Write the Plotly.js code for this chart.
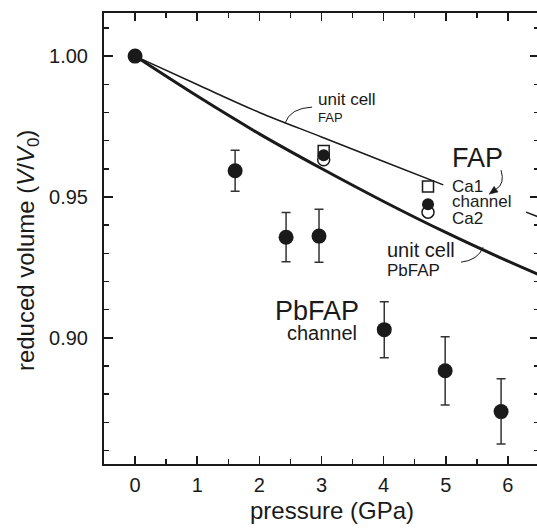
<!DOCTYPE html>
<html>
<head>
<meta charset="utf-8">
<script src="https://cdn.plot.ly/plotly-3.0.1.min.js"></script>
<style>
html,body{margin:0;padding:0;overflow:hidden;background:#fff;}
#chart{width:540px;height:528px;}
</style>
</head>
<body>
<div id="chart"></div>
<script>
// PbFAP channel (filled circles with error bars)
var pbChanP = [0, 1.61, 2.43, 2.96, 4.01, 4.99, 5.89];
var pbChanV = [1.000, 0.9593, 0.9357, 0.9361, 0.9029, 0.8883, 0.8738];
var pbChanErrPlus = [0, 0.0073, 0.0088, 0.0095, 0.0099, 0.0121, 0.0117];
var pbChanErrMinus = [0, 0.0073, 0.0087, 0.0093, 0.0100, 0.0122, 0.0115];

// FAP polyhedra
var fapP = [3.035, 4.714];
var fapCa1V = [0.9663, 0.9537];
var fapChanV = [0.9648, 0.9474];
var fapCa2V = [0.9632, 0.9446];

// Unit cell compression curves
var ucFapP = [0, 1, 2, 3, 4, 4.96];
var ucFapV = [1.000, 0.9899, 0.9800, 0.9713, 0.9626, 0.9543];
var ucPbP = [0, 1, 2, 3, 4, 5, 6, 6.5];
var ucPbV = [1.000, 0.9858, 0.9724, 0.9601, 0.9484, 0.9374, 0.9272, 0.9224];

var xTickVals = [0, 1, 2, 3, 4, 5, 6];
var yTickVals = [0.90, 0.95, 1.00];

var FONT = "Liberation Sans, Arial, Helvetica, sans-serif";
var INK = "#1a1a1a";

var traces = [
  {x: ucFapP, y: ucFapV, mode: "lines", line: {color: INK, width: 1.5, shape: "spline"}, hoverinfo: "skip"},
  {x: ucPbP, y: ucPbV, mode: "lines", line: {color: INK, width: 3, shape: "spline"}, hoverinfo: "skip"},
  {x: fapP, y: fapCa1V, mode: "markers", marker: {symbol: "square", size: 11, color: "#fff", line: {color: INK, width: 1.5}}},
  {x: fapP, y: fapCa2V, mode: "markers", marker: {symbol: "circle", size: 12, color: "#fff", line: {color: INK, width: 1.5}}},
  {x: fapP, y: fapChanV, mode: "markers", marker: {symbol: "circle", size: 12, color: INK, line: {width: 0}}},
  {x: pbChanP, y: pbChanV, mode: "markers",
   marker: {symbol: "circle", size: 15, color: INK, line: {width: 0}},
   error_y: {type: "data", symmetric: false, array: pbChanErrPlus, arrayminus: pbChanErrMinus,
             color: "#333", thickness: 1.5, width: 4.5}}
];

function ann(text, x, y, size, xanchor) {
  return {text: text, x: x, y: y, xref: "x", yref: "y", showarrow: false,
          xanchor: xanchor || "left", yanchor: "middle", borderpad: 0,
          font: {family: FONT, size: size, color: INK}};
}

var annotations = [
  ann("unit cell", 2.935, 0.9847, 17),
  ann("FAP", 2.935, 0.9782, 13),
  ann("FAP", 5.085, 0.9638, 27),
  ann("Ca1", 5.085, 0.9538, 17),
  ann("channel", 5.085, 0.9483, 17),
  ann("Ca2", 5.085, 0.9424, 17),
  ann("unit cell", 4.040, 0.9312, 20),
  ann("PbFAP", 4.040, 0.9238, 17),
  ann("PbFAP", 3.62, 0.9095, 27, "right"),
  ann("channel", 3.58, 0.9016, 20, "right"),
  {text: "pressure (GPa)", xref: "paper", yref: "paper", x: 0.523, y: -0.104, showarrow: false,
   xanchor: "center", yanchor: "middle", borderpad: 0, font: {family: FONT, size: 24, color: INK}},
  {text: "reduced volume (<i>V</i>/<i>V</i><sub>0</sub>)", xref: "paper", yref: "paper", x: -0.176, y: 0.473,
   textangle: -90, showarrow: false, xanchor: "center", yanchor: "middle", borderpad: 0,
   font: {family: FONT, size: 24, color: INK}}
];

var shapes = [
  {type: "path", xref: "x", yref: "y", path: "M 2.4138,0.97621 Q 2.4943,0.98153 2.8484,0.98189", line: {color: INK, width: 1}},
  {type: "path", xref: "x", yref: "y", path: "M 5.6003,0.93217 Q 5.5198,0.92756 5.2462,0.92685", line: {color: INK, width: 1}},
  {type: "path", xref: "x", yref: "y", path: "M 5.8899,0.95952 Q 5.9543,0.95455 5.8095,0.95277", line: {color: INK, width: 1}},
  {type: "path", xref: "x", yref: "y", path: "M 5.6968,0.95099 L 5.8417,0.95177 L 5.7773,0.95376 Z", fillcolor: INK, line: {color: INK, width: 0.5}},
  {type: "line", xref: "x", yref: "y", x0: 6.2921, y0: 0.9446, x1: 6.5014, y1: 0.94283, line: {color: INK, width: 1.5}}
];

var layout = {
  width: 540, height: 528,
  margin: {l: 104, r: 1, t: 13, b: 64},
  paper_bgcolor: "#fff", plot_bgcolor: "#fff",
  showlegend: false,
  font: {family: FONT, color: INK},
  xaxis: {
    range: [-0.5, 6.5], tickvals: xTickVals, ticks: "inside", ticklen: 8, tickwidth: 1.5, tickcolor: INK,
    showline: true, linewidth: 2, linecolor: INK, mirror: "ticks", showgrid: false, zeroline: false,
    tickfont: {family: FONT, size: 20, color: INK}, ticklabelstandoff: 2,
    minor: {dtick: 0.5, ticks: "inside", ticklen: 5, tickwidth: 1.5, tickcolor: INK, showgrid: false}
  },
  yaxis: {
    range: [0.8552, 1.0153], tickvals: yTickVals, tickformat: ".2f", ticks: "inside", ticklen: 9, tickwidth: 1.5, tickcolor: INK,
    showline: true, linewidth: 2, linecolor: INK, mirror: "ticks", showgrid: false, zeroline: false,
    tickfont: {family: FONT, size: 20, color: INK}, ticklabelstandoff: 10,
    minor: {dtick: 0.01, ticks: "inside", ticklen: 5, tickwidth: 1.5, tickcolor: INK, showgrid: false}
  },
  annotations: annotations,
  shapes: shapes
};

Plotly.newPlot("chart", traces, layout, {displayModeBar: false, staticPlot: true});
</script>
</body>
</html>
